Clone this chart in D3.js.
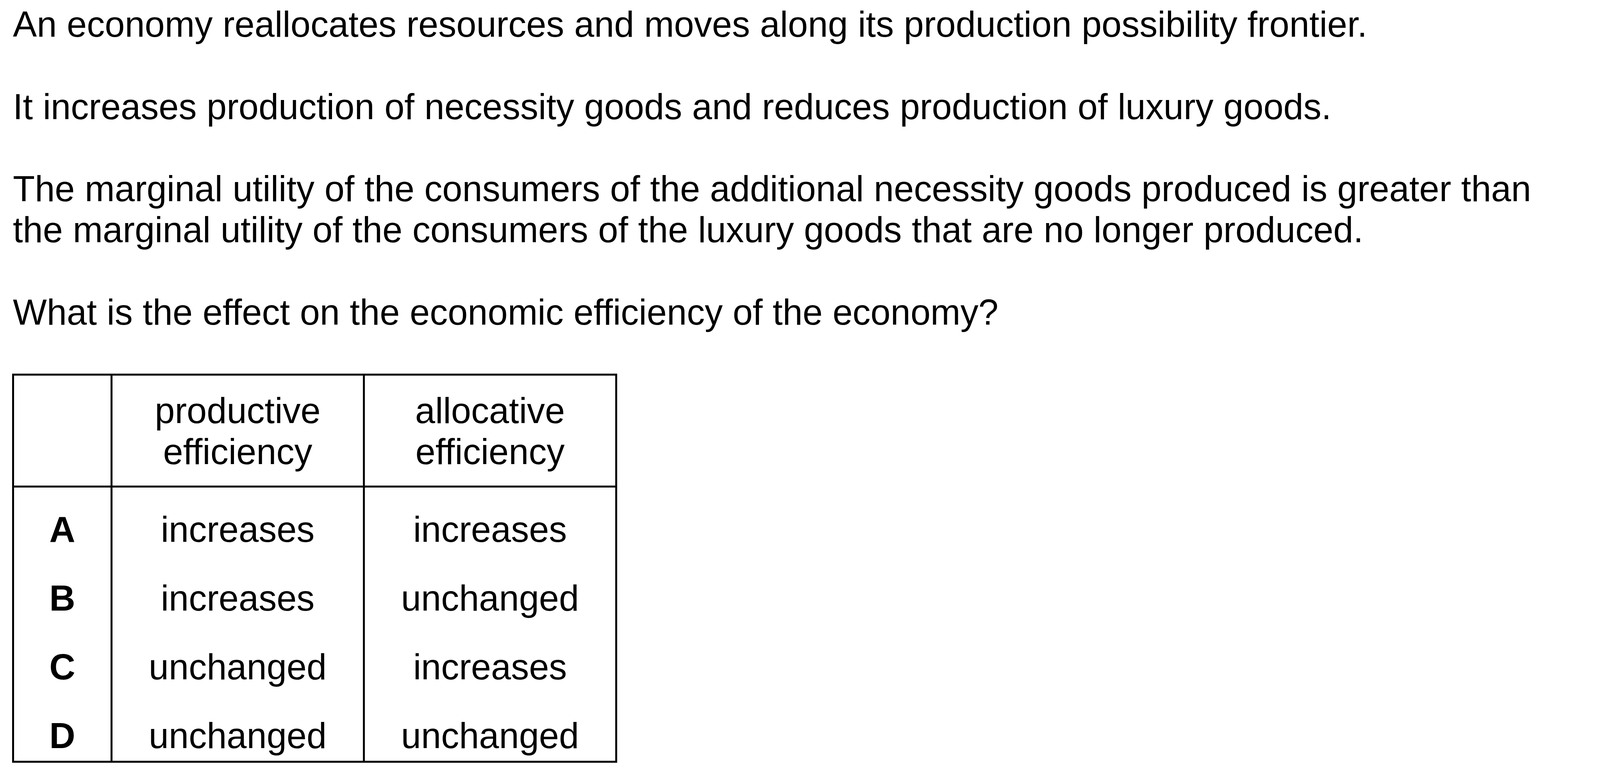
<!DOCTYPE html>
<html lang="en">

<head>
    <meta charset="UTF-8">
    <title>Economic efficiency question</title>
    <script src="https://cdn.jsdelivr.net/npm/d3@7"></script>
    <style>
        body {
            margin: 0;
            background: #fff;
        }

        svg text {
            font-family: "Liberation Sans", Arial, sans-serif;
            font-size: 92px;
            fill: #000;
        }

        .letter {
            font-weight: bold;
        }

        .grid {
            stroke: #000;
            stroke-width: 5;
            fill: none;
        }
    </style>
</head>

<body>
    <svg width="4201" height="1989"></svg>

    <script>
        // question text, one entry per printed line (null = blank line)
        const questionLines = [
            "An economy reallocates resources and moves along its production possibility frontier.",
            null,
            "It increases production of necessity goods and reduces production of luxury goods.",
            null,
            "The marginal utility of the consumers of the additional necessity goods produced is greater than",
            "the marginal utility of the consumers of the luxury goods that are no longer produced.",
            null,
            "What is the effect on the economic efficiency of the economy?"
        ];

        // table data
        const options = ["A", "B", "C", "D"];
        const headers = [["productive", "efficiency"], ["allocative", "efficiency"]];
        const productive = ["increases", "increases", "unchanged", "unchanged"];
        const allocative = ["increases", "unchanged", "increases", "unchanged"];

        const width = 4201;
        const height = 1989;

        const svg = d3.select("svg")
            .attr("width", width)
            .attr("height", height);

        // text lines: a linear scale from line index to baseline
        const lineY = d3.scaleLinear()
            .domain([0, questionLines.length - 1])
            .range([94, 831]);

        svg.append("g")
            .selectAll("text")
            .data(questionLines.map((t, i) => ({ t, i })).filter(d => d.t !== null))
            .join("text")
            .attr("x", 33)
            .attr("y", d => lineY(d.i))
            .text(d => d.t);

        // table geometry
        const table = { left: 33.5, right: 1577.5, top: 959, headBottom: 1245.5, bottom: 1950 };
        const colEdges = [table.left, 285.5, 931.5, table.right];
        const colMid = i => (colEdges[i] + colEdges[i + 1]) / 2;

        const rowY = d3.scalePoint()
            .domain(options)
            .range([1387, 1915]);

        const grid = svg.append("g").attr("class", "grid");

        grid.append("rect")
            .attr("x", table.left)
            .attr("y", table.top)
            .attr("width", table.right - table.left)
            .attr("height", table.bottom - table.top);

        grid.append("line")
            .attr("x1", table.left).attr("x2", table.right)
            .attr("y1", table.headBottom).attr("y2", table.headBottom);

        grid.selectAll(".vline")
            .data(colEdges.slice(1, -1))
            .join("line")
            .attr("class", "vline")
            .attr("x1", d => d).attr("x2", d => d)
            .attr("y1", table.top).attr("y2", table.bottom);

        // header cells
        const head = svg.append("g")
            .selectAll("text")
            .data(headers)
            .join("text")
            .attr("text-anchor", "middle");

        head.selectAll("tspan")
            .data(d => d)
            .join("tspan")
            .attr("x", function () {
                const i = headers.indexOf(d3.select(this.parentNode).datum());
                return colMid(i + 1);
            })
            .attr("y", (d, j) => 1083 + j * 105)
            .text(d => d);

        // body rows
        const rows = svg.append("g")
            .selectAll("g")
            .data(options.map((o, i) => ({ o, p: productive[i], a: allocative[i] })))
            .join("g")
            .attr("transform", d => `translate(0,${rowY(d.o)})`);

        rows.append("text")
            .attr("class", "letter")
            .attr("x", colMid(0))
            .attr("text-anchor", "middle")
            .text(d => d.o);

        rows.append("text")
            .attr("x", colMid(1))
            .attr("text-anchor", "middle")
            .text(d => d.p);

        rows.append("text")
            .attr("x", colMid(2))
            .attr("text-anchor", "middle")
            .text(d => d.a);
    </script>
</body>

</html>
